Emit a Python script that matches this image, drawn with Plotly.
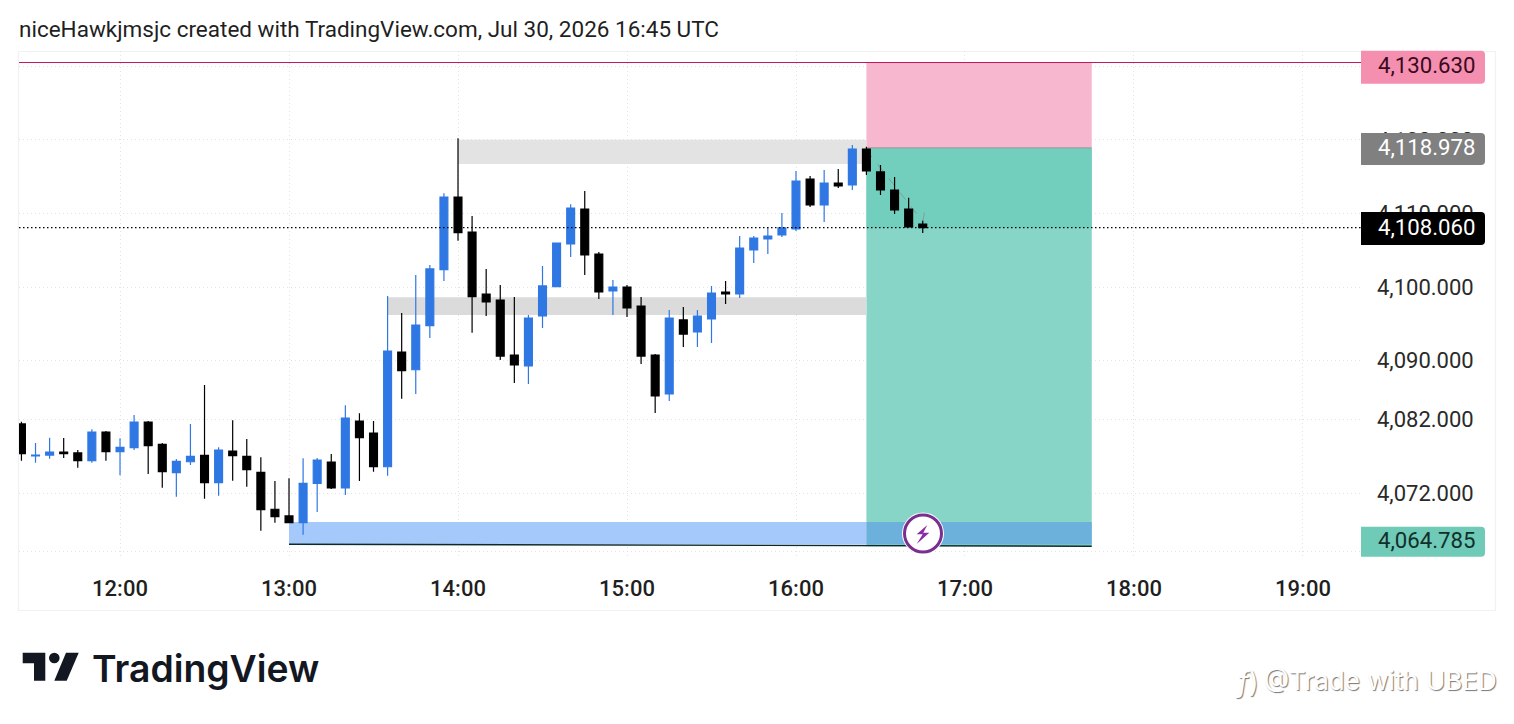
import plotly.graph_objects as go

DAY = "2026-07-30 "
times = ["11:25","11:30","11:35","11:40","11:45","11:50","11:55",
         "12:00","12:05","12:10","12:15","12:20","12:25","12:30","12:35","12:40","12:45","12:50","12:55",
         "13:00","13:05","13:10","13:15","13:20","13:25","13:30","13:35","13:40","13:45","13:50","13:55",
         "14:00","14:05","14:10","14:15","14:20","14:25","14:30","14:35","14:40","14:45","14:50","14:55",
         "15:00","15:05","15:10","15:15","15:20","15:25","15:30","15:35","15:40","15:45","15:50","15:55",
         "16:00","16:05","16:10","16:15","16:20","16:25","16:30","16:35","16:40","16:45"]
opens = [4081.39,4077.04,4077.17,4077.58,4077.45,4076.40,4080.30,
         4077.62,4078.17,4081.66,4078.63,4074.77,4076.26,4077.13,4073.41,4077.72,4077.00,4074.82,4069.80,
         4068.89,4067.98,4073.33,4076.22,4072.69,4081.79,4080.16,4075.58,4091.17,4088.76,4094.74,4102.35,
         4112.23,4107.47,4099.05,4098.23,4090.76,4089.27,4096.06,4100.04,4105.84,4110.60,4104.48,4099.46,
         4100.00,4097.42,4090.76,4085.46,4095.52,4093.89,4095.65,4099.32,4099.05,4105.03,4106.52,4107.07,
         4107.88,4114.67,4111.14,4114.13,4113.86,4118.75,4115.63,4113.18,4110.60,4108.56]
highs = [4081.70,4078.80,4079.53,4079.48,4077.85,4080.67,4080.43,
         4079.44,4082.61,4081.79,4078.80,4076.63,4081.39,4086.68,4078.22,4081.89,4079.35,4076.86,4073.64,
         4074.01,4076.73,4076.77,4077.31,4083.93,4082.84,4081.79,4098.78,4096.47,4101.63,4102.99,4112.73,
         4120.20,4109.65,4102.45,4100.27,4098.64,4096.20,4102.85,4105.98,4111.24,4113.04,4104.76,4100.95,
         4100.27,4098.64,4090.90,4096.87,4097.28,4096.87,4100.14,4100.82,4106.93,4106.93,4108.15,4110.05,
         4115.76,4115.08,4115.90,4116.03,4119.29,4119.06,4116.58,4114.95,4112.13,4109.01]
lows = [4076.40,4076.13,4076.67,4076.77,4075.45,4076.13,4076.40,
        4074.42,4077.85,4074.59,4072.73,4071.51,4075.82,4071.24,4071.65,4073.68,4072.87,4066.89,4067.98,
        4067.98,4066.35,4069.43,4072.55,4071.74,4073.64,4074.90,4074.36,4084.82,4085.46,4093.07,4100.82,
        4106.29,4093.79,4096.06,4090.08,4086.96,4086.82,4094.43,4100.04,4104.08,4101.63,4098.37,4096.20,
        4095.92,4089.54,4082.88,4084.51,4091.85,4091.85,4092.39,4097.69,4098.51,4103.26,4104.48,4106.79,
        4107.61,4110.87,4108.83,4113.45,4113.18,4115.22,4112.50,4109.92,4108.15,4107.34]
closes = [4077.35,4077.17,4077.58,4077.35,4076.40,4080.30,4077.62,
          4078.22,4081.66,4078.44,4074.90,4076.32,4077.00,4073.41,4077.85,4077.08,4075.18,4069.74,4068.79,
          4067.98,4073.33,4076.49,4072.69,4082.20,4079.52,4075.58,4091.30,4088.63,4094.84,4102.45,4112.23,
          4107.38,4098.68,4097.96,4090.62,4089.40,4095.79,4100.14,4105.98,4110.73,4104.35,4099.32,4100.00,
          4097.15,4090.62,4085.19,4095.79,4093.61,4096.06,4099.18,4099.05,4105.30,4106.66,4106.93,4108.02,
          4114.40,4111.14,4114.13,4113.72,4118.75,4115.76,4113.18,4110.46,4108.15,4108.06]

hour_labels = ["12:00","13:00","14:00","15:00","16:00","17:00","18:00","19:00"]
grid_prices = [4130,4120,4110,4100,4090,4082,4072,4064]
grid_labels = ["4,130.000","4,120.000","4,110.000","4,100.000","4,090.000","4,082.000","4,072.000",""]

stop_price, entry_price, last_price, target_price = 4130.5, 4118.9, 4108.06, 4064.785
stop_text, entry_text, last_text, target_text = "4,130.630","4,118.978","4,108.060","4,064.785"

BLUE = "#2F78E4"
BLACK = "#000000"
W, H = 1514, 724
L, R, T, B = 19, 1361, 51, 556

def px(x): return (x - L) / (R - L)
def py(y): return (B - y) / (B - T)
def t(hhmm): return DAY + hhmm + ":00"

shapes, annos = [], []

def box(x0, x1, y0, y1, color):
    shapes.append(dict(type="rect", xref="x", yref="y", x0=t(x0), x1=t(x1), y0=y0, y1=y1,
                       fillcolor=color, line_width=0, layer="between"))

def seg(x0, y0, x1, y1, color, width=1, dash="solid", layer="above"):
    shapes.append(dict(type="line", xref="x", yref="y", x0=t(x0), x1=t(x1), y0=y0, y1=y1,
                       line=dict(color=color, width=width, dash=dash), layer=layer))

# position tool + zones
box("16:25", "17:45", entry_price, stop_price, "#F7B7CF")
box("16:25", "17:45", target_price, entry_price, "#87D5C7")
box("16:25", "17:45", last_price, entry_price, "#72CFBD")
box("14:00", "16:25", 4116.7, 4120.0, "#E3E3E3")
box("13:35", "16:25", 4096.2, 4098.6, "#DBDBDB")
box("13:00", "16:25", 4065.0, 4068.07, "#A4C9FA")
box("16:25", "17:45", 4065.0, 4068.07, "#6BB1DC")
seg("16:25", entry_price, "17:45", entry_price, "#8E9A98", 1, layer="between")
seg("13:00", 4065.05, "17:45", target_price, "#0C2A2A", 1.4, layer="between")
seg("16:25", 4118.6, "16:45", 4108.9, "#7E9E98", 1, "dash", layer="between")
seg("16:45", 4108.9, "16:46", 4110.9, "#7E9E98", 1, "dash", layer="between")

# horizontal levels
shapes.append(dict(type="line", xref="paper", yref="y", x0=0, x1=1, y0=stop_price, y1=stop_price,
                   line=dict(color="#C2185B", width=1), layer="above"))
shapes.append(dict(type="line", xref="paper", yref="y", x0=0, x1=1, y0=last_price, y1=last_price,
                   line=dict(color="#000000", width=1.2, dash="1.5px,2.5px"), layer="above"))

# outer frame
shapes.append(dict(type="rect", xref="paper", yref="paper", x0=px(18.5), x1=px(1495.5), y0=py(610.5), y1=py(51.5),
                   line=dict(color="#F1F1F1", width=1.2), fillcolor="rgba(0,0,0,0)", layer="below"))

def label(y0, y1, fill, text, color):
    r = 4
    x0, x1 = 1361, 1485
    path = (f"M {px(x0)},{py(y0)} L {px(x1-r)},{py(y0)} Q {px(x1)},{py(y0)} {px(x1)},{py(y0+r)} "
            f"L {px(x1)},{py(y1-r)} Q {px(x1)},{py(y1)} {px(x1-r)},{py(y1)} L {px(x0)},{py(y1)} Z")
    shapes.append(dict(type="path", xref="paper", yref="paper", path=path, fillcolor=fill, line_width=0, layer="above"))
    annos.append(dict(xref="paper", yref="paper", x=px(1478), y=py((y0 + y1) / 2 - 2), text=text, showarrow=False,
                      xanchor="right", yanchor="middle", font=dict(family="Roboto", size=22.2, color=color)))

label(50.7, 83.7, "#F58FB0", stop_text, "#3A0A1E")
label(133, 165, "#808080", entry_text, "#FFFFFF")
label(212, 245, "#000000", last_text, "#FFFFFF")
label(526.7, 556.7, "#6FCAB7", target_text, "#10302B")

# alert icon
cx, cy = 923, 533.5
for rad, fill, lc, lw in [(21, "#FFFFFF", "#FFFFFF", 0), (18.5, "#FFFFFF", "#7A2E8E", 3)]:
    shapes.append(dict(type="circle", xref="paper", yref="paper", x0=px(cx-rad), x1=px(cx+rad),
                       y0=py(cy+rad), y1=py(cy-rad), fillcolor=fill, line=dict(color=lc, width=lw), layer="above"))
bolt = [(927.3,525),(916.7,534.3),(922.7,534.3),(916.7,544),(929.3,532.7),(923.3,532.7)]
shapes.append(dict(type="path", xref="paper", yref="paper",
                   path="M " + " L ".join(f"{px(a)},{py(b)}" for a, b in bolt) + " Z",
                   fillcolor="#8A2BA8", line_width=0, layer="above"))

# TradingView logo
logo_col = "#131722"
for pts in [[(22.7,652.7),(45.3,652.7),(45.3,680.7),(34,680.7),(34,663.3),(22.7,663.3)],
            [(66,652.7),(78.7,652.7),(66.7,680.7),(54.3,680.7)]]:
    shapes.append(dict(type="path", xref="paper", yref="paper",
                       path="M " + " L ".join(f"{px(a)},{py(b)}" for a, b in pts) + " Z",
                       fillcolor=logo_col, line_width=0, layer="above"))
shapes.append(dict(type="circle", xref="paper", yref="paper", x0=px(49), x1=px(59.6), y0=py(663.3), y1=py(652.7),
                   fillcolor=logo_col, line_width=0, layer="above"))

annos.append(dict(xref="paper", yref="paper", x=px(89.5), y=py(668), text="TradingView", showarrow=False,
                  xanchor="left", yanchor="middle", font=dict(family="Inter", size=37.3, color=logo_col, weight=600)))
annos.append(dict(xref="paper", yref="paper", x=px(17), y=py(29.5), text="niceHawkjmsjc created with TradingView.com, Jul 30, 2026 16:45 UTC",
                  showarrow=False, xanchor="left", yanchor="middle", font=dict(family="Roboto", size=22.5, color="#1F1F1F")))
annos.append(dict(xref="paper", yref="paper", x=px(1499), y=py(680), text="@Trade with UBED", showarrow=False,
                  xanchor="right", yanchor="middle",
                  font=dict(family="Inter", size=26, color="#FFFFFF", shadow="1px 1px 1px #777777")))
annos.append(dict(xref="paper", yref="paper", x=px(1233), y=py(682), text="<i>f</i>)", showarrow=False,
                  xanchor="left", yanchor="middle",
                  font=dict(family="Inter", size=28, color="#FFFFFF", shadow="1px 1px 1px #777777")))

fig = go.Figure(go.Candlestick(
    x=[t(s) for s in times], open=opens, high=highs, low=lows, close=closes,
    increasing=dict(line=dict(color=BLUE, width=1.2), fillcolor=BLUE),
    decreasing=dict(line=dict(color=BLACK, width=1.2), fillcolor=BLACK),
    whiskerwidth=0, hoverinfo="skip", showlegend=False))

GRID = "#E2E2E2"
fig.update_layout(
    width=W, height=H, margin=dict(l=L, r=W-R, t=T, b=H-B, autoexpand=False),
    paper_bgcolor="#FFFFFF", plot_bgcolor="#FFFFFF", showlegend=False,
    shapes=shapes, annotations=annos, hovermode=False, boxgap=0.2,
    xaxis=dict(type="date", range=[DAY + "11:24:08", DAY + "19:20:36"], rangeslider_visible=False,
               tickmode="array", tickvals=[t(h) for h in hour_labels], ticktext=hour_labels,
               showgrid=True, gridcolor=GRID, griddash="1px,3px", gridwidth=1, zeroline=False, showline=False,
               ticks="", ticklabelstandoff=17, tickfont=dict(family="Roboto", size=22, color="#1F1F1F", weight=500)),
    yaxis=dict(side="right", range=[4100 - (B - 287) / 7.36, 4100 + (287 - T) / 7.36],
               tickmode="array", tickvals=grid_prices, ticktext=grid_labels,
               showgrid=True, gridcolor=GRID, griddash="1px,3px", gridwidth=1, zeroline=False, showline=False,
               ticks="", ticklabelstandoff=15, tickfont=dict(family="Roboto", size=22, color="#2A2A2A")),
)

fig.write_html("out.html", post_script="document.body.style.margin='0';document.body.style.overflow='hidden';",
               config=dict(displayModeBar=False))
